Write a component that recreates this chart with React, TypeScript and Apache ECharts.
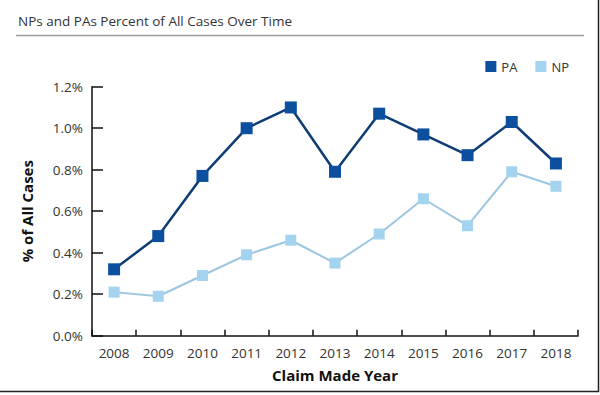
import React, { useEffect, useRef } from "react";
import * as echarts from "echarts";

const years = ["2008", "2009", "2010", "2011", "2012", "2013", "2014", "2015", "2016", "2017", "2018"];
const paValues = [0.32, 0.48, 0.77, 1.0, 1.1, 0.79, 1.07, 0.97, 0.87, 1.03, 0.83];
const npValues = [0.21, 0.19, 0.29, 0.39, 0.46, 0.35, 0.49, 0.66, 0.53, 0.79, 0.72];

const FONT = "Open Sans";

export default function App() {
  const ref = useRef<HTMLDivElement>(null);
  useEffect(() => {
    if (!ref.current) return;
    const chart = echarts.init(ref.current, null, { renderer: "svg" });
    chart.setOption({
      animation: false,
      backgroundColor: "#fff",
      textStyle: { fontFamily: FONT },
      title: {
        text: "NPs and PAs Percent of All Cases Over Time",
        left: 13,
        top: 9,
        textStyle: { fontFamily: FONT, fontSize: 13.5, fontWeight: "normal", color: "#333" },
      },
      legend: {
        right: 26,
        top: 55,
        icon: "rect",
        itemWidth: 11,
        itemHeight: 11,
        itemGap: 18,
        textStyle: { fontFamily: FONT, fontSize: 13, color: "#333" },
        data: ["PA", "NP"],
      },
      graphic: [
        { type: "line", shape: { x1: 16, y1: 35.5, x2: 584, y2: 35.5 }, style: { stroke: "#9a9a9a", lineWidth: 1.5 } },
        { type: "line", shape: { x1: 598.5, y1: 0, x2: 598.5, y2: 392 }, style: { stroke: "#222", lineWidth: 1.5 } },
        { type: "line", shape: { x1: 0, y1: 391.5, x2: 599, y2: 391.5 }, style: { stroke: "#222", lineWidth: 1.5 } },
      ],
      grid: { left: 92, right: 22, top: 86.7, bottom: 59.3 },
      xAxis: {
        type: "category",
        data: years,
        boundaryGap: true,
        name: "Claim Made Year",
        nameLocation: "middle",
        nameGap: 32,
        nameTextStyle: { fontFamily: FONT, fontSize: 15, fontWeight: "bold", color: "#111" },
        axisLine: { lineStyle: { color: "#111", width: 1.5 } },
        axisTick: { show: true, inside: true, length: 6, lineStyle: { color: "#111", width: 1.5 } },
        axisLabel: { fontFamily: FONT, fontSize: 13.5, color: "#333", margin: 10 },
        splitLine: { show: false },
      },
      yAxis: {
        type: "value",
        min: 0,
        max: 1.2,
        interval: 0.2,
        name: "% of All Cases",
        nameLocation: "middle",
        nameGap: 58,
        nameTextStyle: { fontFamily: FONT, fontSize: 15, fontWeight: "bold", color: "#111" },
        axisLine: { show: true, lineStyle: { color: "#111", width: 1.5 } },
        axisTick: { show: true, inside: true, length: 11, lineStyle: { color: "#111", width: 1.5 } },
        axisLabel: {
          fontFamily: FONT,
          fontSize: 13.5,
          color: "#333",
          margin: 9,
          formatter: (v: number) => v.toFixed(1) + "%",
        },
        splitLine: { show: false },
      },
      series: [
        {
          name: "PA",
          type: "line",
          data: paValues,
          symbol: "rect",
          symbolSize: 12,
          itemStyle: { color: "#0b4f9e" },
          lineStyle: { color: "#0f3c75", width: 2.5 },
          z: 3,
        },
        {
          name: "NP",
          type: "line",
          data: npValues,
          symbol: "rect",
          symbolSize: 11,
          itemStyle: { color: "#a4d3ef" },
          lineStyle: { color: "#9cc6e0", width: 2 },
          z: 2,
        },
      ],
    });
    return () => chart.dispose();
  }, []);
  return <div ref={ref} style={{ width: 600, height: 395, position: "absolute", left: 0, top: 0 }} />;
}
